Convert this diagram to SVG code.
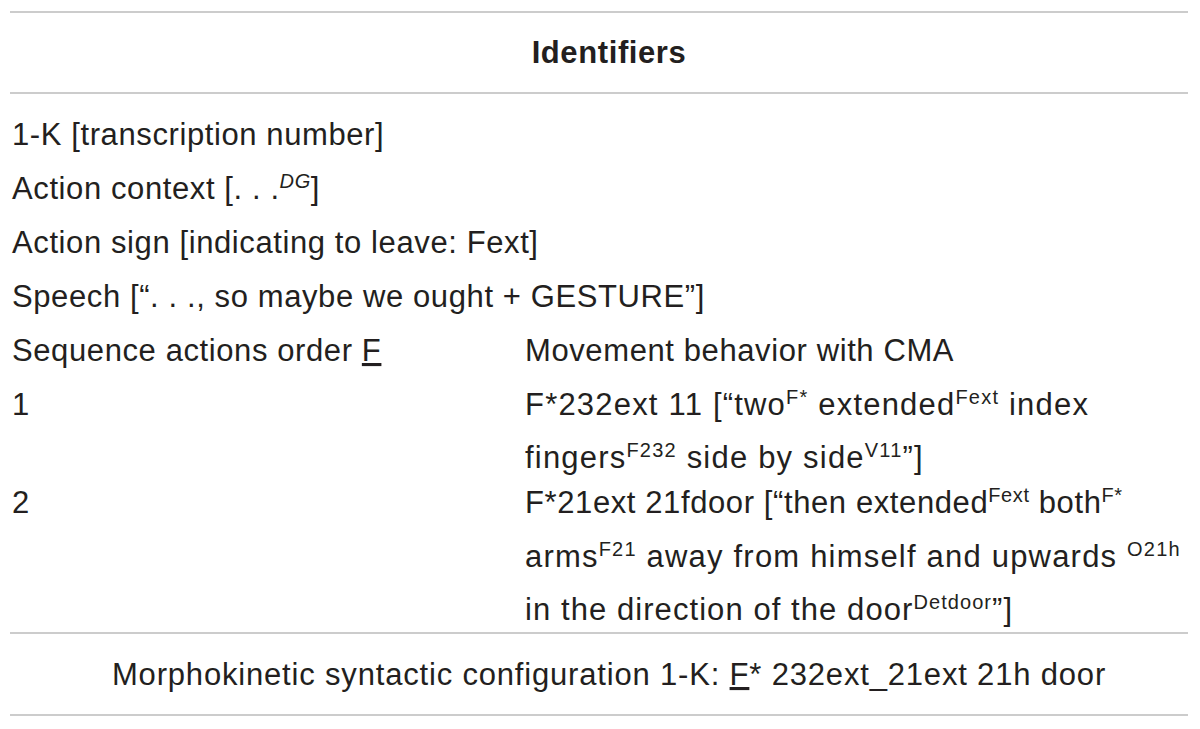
<svg xmlns="http://www.w3.org/2000/svg" width="1200" height="729" viewBox="0 0 1200 729">
<style>
.t{font-family:"Liberation Sans",Arial,sans-serif;font-size:31px;fill:#231f20;letter-spacing:0.6px}
.b{font-weight:bold}
.s{font-size:20px}
.w{letter-spacing:1.2px}
.rule{stroke:#cccccc;stroke-width:2}
</style>
<rect width="1200" height="729" fill="#ffffff"/>
<g id="rules">
<line class="rule" x1="10" y1="12" x2="1188" y2="12"/>
<line class="rule" x1="10" y1="93" x2="1188" y2="93"/>
<line class="rule" x1="10" y1="633" x2="1188" y2="633"/>
<line class="rule" x1="10" y1="715" x2="1188" y2="715"/>
</g>
<g id="header"><text class="t b" x="609" y="63" text-anchor="middle">Identifiers</text></g>
<g id="left">
<text class="t" x="12" y="145">1-K [transcription number]</text>
<text class="t" x="12" y="199">Action context [. . .<tspan class="s" dy="-11" font-style="italic">DG</tspan><tspan dy="11">]</tspan></text>
<text class="t" x="12" y="253">Action sign [indicating to leave: Fext]</text>
<text class="t" x="12" y="307">Speech [“. . ., so maybe we ought + GESTURE”]</text>
<text class="t" x="12" y="361">Sequence actions order <tspan text-decoration="underline">F</tspan></text>
<text class="t" x="12" y="415">1</text>
<text class="t" x="12" y="513">2</text>
</g>
<g id="right">
<text class="t" x="525" y="361">Movement behavior with CMA</text>
<text class="t w" x="525" y="415">F*232ext 11 [“two<tspan class="s" dy="-11">F*</tspan><tspan dy="11"> extended</tspan><tspan class="s" dy="-11">Fext</tspan><tspan dy="11"> index</tspan></text>
<text class="t w" x="525" y="468">fingers<tspan class="s" dy="-11">F232</tspan><tspan dy="11"> side by side</tspan><tspan class="s" dy="-11">V11</tspan><tspan dy="11">”]</tspan></text>
<text class="t" x="525" y="513">F*21ext 21fdoor [“then extended<tspan class="s" dy="-11">Fext</tspan><tspan dy="11"> both</tspan><tspan class="s" dy="-11">F*</tspan></text>
<text class="t w" x="525" y="567">arms<tspan class="s" dy="-11">F21</tspan><tspan dy="11"> away from himself and upwards </tspan><tspan class="s" dy="-11">O21h</tspan></text>
<text class="t" x="525" y="620" style="letter-spacing:1.07px">in the direction of the door<tspan class="s" dy="-11">Detdoor</tspan><tspan dy="11">”]</tspan></text>
</g>
<g id="footer"><text class="t" x="609" y="685" text-anchor="middle" style="letter-spacing:0.82px">Morphokinetic syntactic configuration 1-K: <tspan text-decoration="underline">F</tspan>* 232ext_21ext 21h door</text></g>
</svg>
